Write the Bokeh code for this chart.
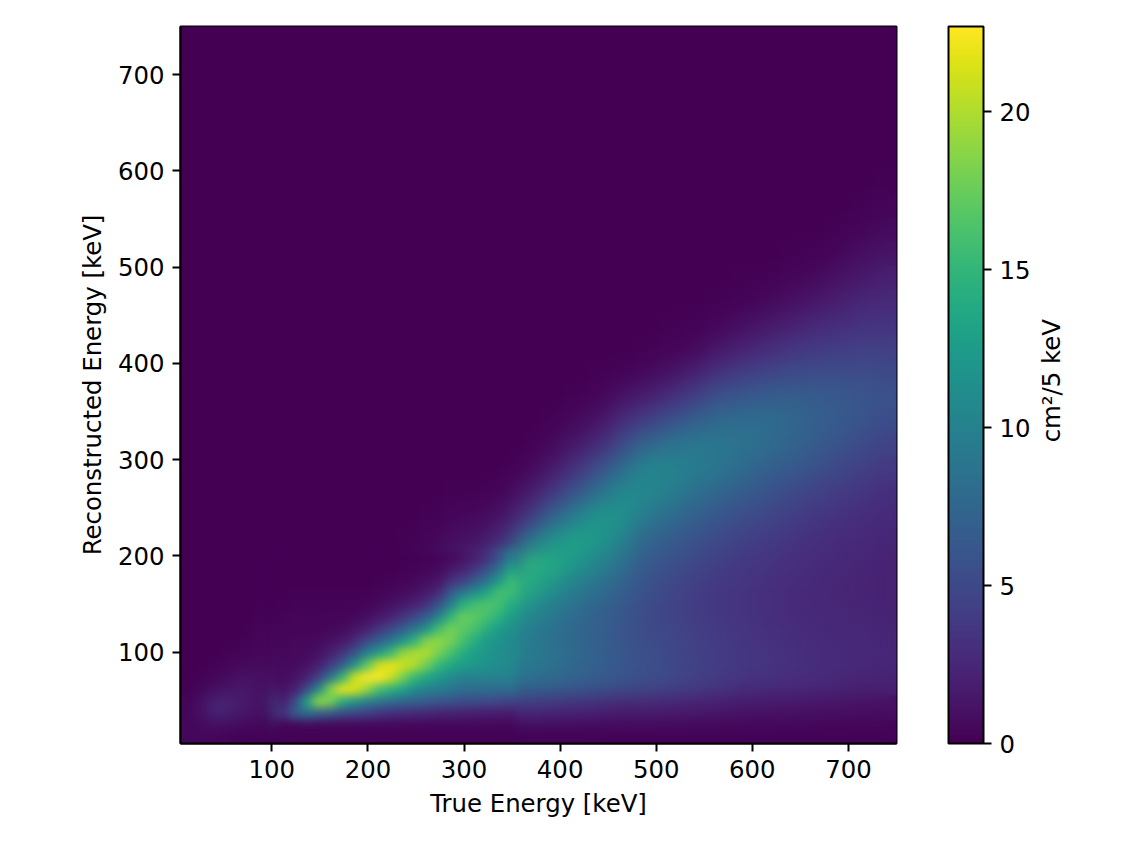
from bokeh.plotting import figure
from bokeh.embed import file_html
from bokeh.resources import INLINE
from bokeh.document import Document
from bokeh.layouts import row
from bokeh.core.properties import value
from bokeh.models import LinearColorMapper, ColorBar, FixedTicker, Range1d, CustomJS
from bokeh.palettes import Viridis256
import numpy as np
import math

# Estimated response values, one list per true-energy bin; each list runs upward in
# reconstructed energy from the lowest bin, and bins above a list's end are read as zero.
energy_min, energy_max = 5, 750
n_bins = 30
c_017 = [.5, .4]
c_042 = [.4, 3, .5]
c_067 = [.2, 1.8, 1.4, .3]
c_092 = [.2, .8, .9, .6, .3, .1]
c_117 = [.3, 7, 1.3, .7, .5, .2]
c_142 = [.3, 12, 7, 1, .5, .2, .1]
c_167 = [.3, 9, 19, 3, .8, .3, .1]
c_192 = [.3, 8.5, 23.5, 9, 1.5, .5, .2, .1]
c_217 = [.3, 7, 21, 20, 4.5, 1, .4, .2]
c_242 = [.3, 5.5, 15.5, 21, 11, 3, .9, .3, .1]
c_267 = [.3, 4.5, 12.5, 16.5, 19, 10, 3, 1, .4, .1]
c_292 = [.3, 4, 8.5, 13.5, 16.5, 16, 8, 2, .8, .4, .1]
c_317 = [.3, 3.8, 8.5, 11.5, 13.5, 16.8, 13, 3.5, 1.2, .6, .1]
c_342 = [.3, 3.5, 8.3, 10.5, 11, 13.5, 15.8, 7.5, 3, 1.2, .3]
c_367 = [.2, 3.2, 8, 9.5, 9.5, 11, 14, 14.5, 8, 3.5, 1.5, .4]
c_392 = [.2, 3, 7.5, 8.7, 8.5, 9.2, 11.5, 14, 11.5, 7, 3.5, 1.5, .5, .1]
c_417 = [.2, 2.7, 7, 7.8, 7.5, 8, 9.5, 12, 13, 9.8, 6, 3.2, 1.5, .5, .1]
c_442 = [.2, 2.4, 6.3, 7, 6.8, 7, 8.2, 10, 12, 11.8, 8.5, 5.5, 2.8, 1.2, .3, .1]
c_467 = [.2, 2.1, 5.7, 6.2, 6, 6.1, 7, 8.3, 10, 11.5, 10.8, 8, 5.2, 2.9, 1.1, .2]
c_492 = [.2, 2.2, 5.3, 5.5, 5.3, 5.2, 5.5, 6.3, 7.5, 9.3, 10.7, 10.2, 7.5, 4.2, 1.9, .5, .1]
c_517 = [.2, 2, 4.8, 5, 4.8, 4.6, 4.8, 5.5, 6.5, 8, 9.5, 10.2, 8.6, 5.5, 3, 1.1, .3, .1]
c_542 = [.2, 1.8, 4.3, 4.5, 4.3, 4.1, 4.2, 4.8, 5.7, 7, 8.4, 9.5, 9.1, 6.8, 4.2, 2, .6, .2]
c_567 = [.2, 1.6, 3.8, 4.1, 3.9, 3.7, 3.7, 4.2, 5, 6.1, 7.5, 8.8, 9, 7.8, 5.6, 3.3, 1.5, .4, .1]
c_592 = [.2, 1.4, 3.3, 3.7, 3.5, 3.4, 3.4, 3.7, 4.4, 5.4, 6.6, 7.9, 8.6, 8, 6.2, 4.1, 2.2, .9, .2, .1]
c_617 = [.2, 1.3, 3.1, 3.5, 3.2, 3.1, 3.1, 3.4, 3.9, 4.8, 5.8, 7, 8, 8, 6.6, 4.7, 2.9, 1.5, .5, .1]
c_642 = [.2, 1.2, 2.9, 3.2, 3, 2.8, 2.8, 3.1, 3.5, 4.2, 5.1, 6.3, 7.3, 7.6, 6.7, 5.1, 3.5, 2, .9, .3, .1]
c_667 = [.2, 1.1, 2.7, 3, 2.8, 2.6, 2.6, 2.8, 3.1, 3.7, 4.5, 5.6, 6.6, 7, 6.6, 5.3, 3.9, 2.6, 1.4, .6, .2]
c_692 = [.2, 1, 2.5, 2.8, 2.6, 2.5, 2.4, 2.6, 2.8, 3.3, 4, 4.9, 5.9, 6.5, 6.3, 5.4, 4.1, 3, 1.9, 1, .4, .1]
c_717 = [.2, .95, 2.3, 2.6, 2.5, 2.4, 2.3, 2.4, 2.6, 3, 3.5, 4.3, 5.2, 5.9, 6, 5.3, 4.3, 3.3, 2.4, 1.5, .8, .3, .1]
c_742 = [.2, .9, 2.2, 2.5, 2.4, 2.3, 2.2, 2.3, 2.4, 2.7, 3.1, 3.8, 4.6, 5.4, 5.7, 5.2, 4.3, 3.4, 2.7, 2, 1.2, .7, .3, .1]
columns = [c_017, c_042, c_067, c_092, c_117, c_142, c_167, c_192, c_217, c_242,
           c_267, c_292, c_317, c_342, c_367, c_392, c_417, c_442, c_467, c_492,
           c_517, c_542, c_567, c_592, c_617, c_642, c_667, c_692, c_717, c_742]

# A finer estimate of the narrow peak: true energy 105-355 keV, reconstructed energy 5-205 keV.
peak_x_min, peak_x_max, peak_y_min, peak_y_max = 105, 355, 5, 205
peak_rows = 16
d_111 = [.1, .3, 3, 1.7, 1, .7, .6, .5, .4, .3, .2, .1]
d_124 = [.1, .3, 6.5, 5, 2, 1.1, .7, .6, .5, .4, .3, .2, .1]
d_136 = [.1, .4, 8, 13, 5, 2, 1, .7, .5, .4, .3, .2, .1]
d_149 = [.1, .4, 7, 19, 11, 4.5, 2, 1, .6, .4, .3, .2, .1]
d_161 = [.1, .4, 6, 18, 18.5, 9, 4, 2, 1, .5, .3, .2, .1]
d_174 = [.1, .4, 5, 14, 22, 15, 7, 3.5, 1.5, .7, .3, .2, .1]
d_186 = [.1, .4, 4.5, 12, 21.5, 21, 12, 6, 2.8, 1.2, .5, .2, .1]
d_199 = [.1, .4, 4, 10, 19, 23, 17, 10, 5, 2, .8, .4, .1]
d_211 = [.1, .4, 3.5, 9, 16, 23, 21, 13, 7, 3.5, 1.5, .6, .3, .1]
d_224 = [.1, .4, 3, 8, 14.5, 21, 22, 15.5, 9, 5, 2.3, 1, .5, .2]
d_236 = [.1, .4, 2.8, 7.5, 13, 18, 21, 19, 12, 7, 3.5, 1.5, .7, .3, .1]
d_249 = [.1, .4, 2.6, 7, 11, 15, 20, 20, 15, 9, 5, 2.3, 1, .5, .2, .1]
d_261 = [.1, .4, 2.4, 6.5, 10, 13.5, 17.5, 20, 18.5, 12, 7, 3.5, 1.6, .8, .4, .2]
d_274 = [.1, .4, 2.2, 6, 9.5, 12, 15, 18, 19, 16, 10.5, 6, 3, 1.3, .6, .3]
d_286 = [.1, .4, 2.1, 5.7, 8.8, 11, 13.5, 16, 18, 18, 15, 10, 6.5, 3.2, 1.4, .6]
d_299 = [.1, .4, 2, 5.4, 8, 10, 12.5, 14, 16, 17, 17.5, 14.5, 9.5, 4.5, 2.2, 1]
d_311 = [.1, .4, 1.9, 5.2, 8, 10, 12, 12.8, 14, 16, 17, 16, 11.5, 6.5, 3.5, 1.8]
d_324 = [.1, .4, 1.8, 5, 8, 10, 11.5, 12, 12.5, 14, 16, 16.5, 13.5, 9, 5.5, 3]
d_336 = [.1, .4, 1.7, 4.8, 8, 10, 11, 11.2, 11.5, 12.5, 14.5, 15.8, 16, 12.5, 8.5, 5.5]
d_349 = [.1, .4, 1.6, 4.6, 8, 9.8, 10.6, 10.7, 10.8, 11.2, 12.5, 14, 15.5, 15.5, 13, 9.5]
peak_columns = [d_111, d_124, d_136, d_149, d_161, d_174, d_186, d_199, d_211, d_224,
                d_236, d_249, d_261, d_274, d_286, d_299, d_311, d_324, d_336, d_349]

axis_ticks = [100, 200, 300, 400, 500, 600, 700]
bar_ticks = [0, 5, 10, 15, 20]
value_max = 22.7
bar_title = ["cm²/5 keV"]

matrix = np.zeros((n_bins, n_bins))
for i, col in enumerate(columns):
    matrix[:len(col), i] = col
peak_matrix = np.zeros((peak_rows, len(peak_columns)))
for i, col in enumerate(peak_columns):
    peak_matrix[:len(col), i] = col

FONT = "DejaVu Sans"
FS = "24.4px"
p = figure(width=1035, height=830, frame_width=716, frame_height=717,
           min_border_left=180, min_border_top=26, min_border_bottom=87, min_border_right=139,
           x_range=Range1d(energy_min, energy_max), y_range=Range1d(energy_min, energy_max),
           toolbar_location=None, output_backend="svg",
           x_axis_label="True Energy [keV]", y_axis_label="Reconstructed Energy [keV]")
mapper = LinearColorMapper(palette=Viridis256, low=0, high=value_max)
# The lower copy keeps the frame's edges filled; the two upper images are softened on screen.
for _ in range(2):
    p.image(image=[matrix], x=energy_min, y=energy_min, dw=energy_max - energy_min,
            dh=energy_max - energy_min, color_mapper=mapper)
p.image(image=[peak_matrix], x=peak_x_min, y=peak_y_min, dw=peak_x_max - peak_x_min,
        dh=peak_y_max - peak_y_min, color_mapper=mapper)
p.grid.visible = False
p.outline_line_color = "black"
p.outline_line_width = 2
for ax in (p.xaxis[0], p.yaxis[0]):
    ax.ticker = FixedTicker(ticks=axis_ticks)
    ax.major_label_text_font = FONT
    ax.major_label_text_font_size = FS
    ax.major_label_text_color = "black"
    ax.axis_label_text_font = FONT
    ax.axis_label_text_font_size = FS
    ax.axis_label_text_font_style = "normal"
    ax.axis_label_text_color = "black"
    ax.axis_line_width = 2
    ax.major_tick_line_width = 2
    ax.major_tick_out = 8
    ax.major_tick_in = 0
    ax.minor_tick_out = 0
    ax.minor_tick_in = 0
    ax.major_label_standoff = 8
    ax.axis_label_standoff = 8

bar = ColorBar(color_mapper=mapper, ticker=FixedTicker(ticks=bar_ticks), width=35, height=717,
               margin=0, padding=0, location=(52, 0), label_standoff=8,
               major_tick_line_color="black", major_tick_line_width=2, major_tick_in=0, major_tick_out=8,
               minor_tick_line_color=None, bar_line_color="black", bar_line_width=2,
               major_label_text_font=FONT, major_label_text_font_size=FS, major_label_text_color="black")
p.add_layout(bar, "right")

q = figure(width=70, height=830, x_range=Range1d(0, 70), y_range=Range1d(0, 830),
           min_border=0, toolbar_location=None, output_backend="svg", outline_line_color=None)
q.axis.visible = False
q.grid.visible = False
q.text(x=[16], y=[420], text=bar_title, angle=math.pi / 2, text_align="center", text_baseline="middle",
       text_font=value(FONT), text_font_size=value(FS), text_color="black")

smooth = CustomJS(code="""
function collect(root, out){
  root.querySelectorAll('*').forEach(el=>{
    if(el.tagName==='image' && parseFloat(el.getAttribute('width'))>100) out.push(el);
    if(el.shadowRoot) collect(el.shadowRoot, out);
  });
  return out;
}
let n=0; const t=setInterval(()=>{
  const imgs=collect(document,[]);
  if(imgs.length>2){
    imgs[imgs.length-2].style.filter='blur(10px)';
    imgs[imgs.length-1].style.filter='blur(5px)';
  }
  if(++n>40) clearInterval(t);
},50);
""")
doc = Document()
doc.add_root(row(p, q, spacing=0))
doc.js_on_event("document_ready", smooth)
open("out.html", "w").write(file_html(doc, INLINE))
